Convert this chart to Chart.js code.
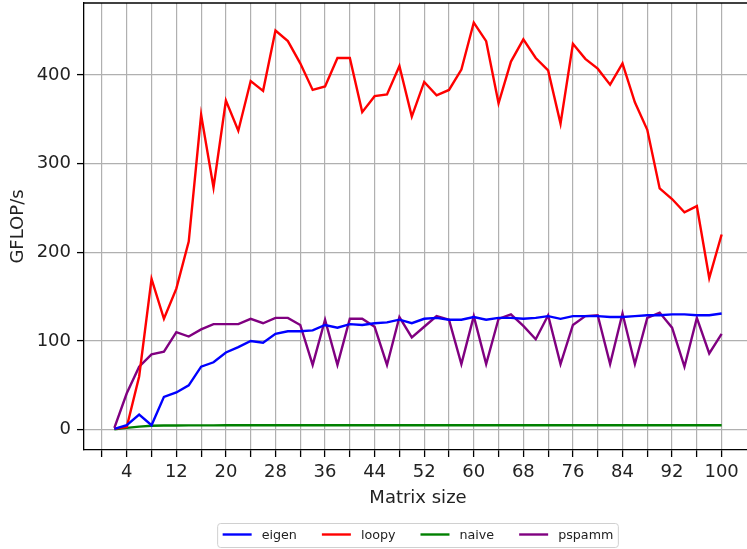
<!DOCTYPE html>
<html>
<head>
<meta charset="utf-8">
<script src="https://cdn.jsdelivr.net/npm/chart.js@4.4.0/dist/chart.umd.min.js"></script>
<style>
    html, body{margin:0; padding:0; overflow:hidden; background:#fff;}
    #caja{width:752px; height:549px; position:relative;}
</style>
</head>
<body>
<div id="caja"><canvas id="grafica"></canvas></div>
<script>
//Data
    //Matrix sizes
        var tamanos = [2, 4, 6, 8, 10, 12, 14, 16, 18, 20, 22, 24, 26, 28, 30, 32, 34, 36, 38, 40,
            42, 44, 46, 48, 50, 52, 54, 56, 58, 60, 62, 64, 66, 68, 70, 72, 74, 76, 78, 80,
            82, 84, 86, 88, 90, 92, 94, 96, 98, 100];
    //GFLOP/s per series
        var eigen = [1, 5, 17, 5, 37, 42, 50, 71, 76, 87, 93, 100, 98, 108, 111, 111, 112, 118, 115, 119,
            118, 120, 121, 124, 120, 125, 126, 124, 124, 127, 124, 126, 126, 125, 126, 128, 125, 128, 128, 128,
            127, 127, 128, 129, 129, 130, 130, 129, 129, 131];
        var loopy = [1, 3, 60, 170, 125, 159, 212, 355, 273, 371, 337, 393, 382, 450, 438, 413, 383, 387, 419, 419,
            358, 376, 378, 410, 353, 392, 377, 383, 406, 459, 438, 368, 415, 440, 419, 405, 345, 435, 418, 407,
            389, 413, 369, 338, 272, 260, 245, 252, 171, 220];
        var naive = [0.5, 2, 3.5, 4.5, 4.8, 4.8, 4.9, 4.9, 4.9, 5, 5, 5, 5, 5, 5, 5, 5, 5, 5, 5,
            5, 5, 5, 5, 5, 5, 5, 5, 5, 5, 5, 5, 5, 5, 5, 5, 5, 5, 5, 5,
            5, 5, 5, 5, 5, 5, 5, 5, 5, 5];
        var pspamm = [2, 41, 71, 85, 88, 110, 105, 113, 119, 119, 119, 125, 120, 126, 126, 118, 73, 124, 73, 125,
            125, 116, 73, 127, 104, 116, 128, 124, 74, 128, 74, 125, 130, 117, 102, 129, 74, 118, 128, 129,
            74, 131, 74, 126, 132, 115, 71, 126, 86, 108];
    //Names and colours
        var nombres = ["eigen", "loopy", "naive", "pspamm"];
        var colores = ["#0000ff", "#ff0000", "#008000", "#800080"];
    //Ticks
        var ticksX = [0, 4, 8, 12, 16, 20, 24, 28, 32, 36, 40, 44, 48, 52, 56, 60, 64, 68, 72, 76, 80, 84, 88, 92, 96, 100];
        var etiquetasX = [4, 12, 20, 28, 36, 44, 52, 60, 68, 76, 84, 92, 100];
        var ticksY = [0, 100, 200, 300, 400];

//Plugins
    //Top spine
        var marco = {
            id: 'marco',
            afterDraw: function(chart){
                var ctx = chart.ctx, a = chart.chartArea;
                ctx.save();
                ctx.strokeStyle = '#000';
                ctx.lineWidth = 1.3;
                ctx.beginPath();
                ctx.moveTo(a.left, a.top);
                ctx.lineTo(a.right, a.top);
                ctx.stroke();
                ctx.restore();
            }
        };
    //Framed legend under the axis title
        var leyenda = {
            id: 'leyenda',
            afterDraw: function(chart){
                var ctx = chart.ctx, a = chart.chartArea;
                var linea = 29, hueco = 10, sep = 25, pad = 5;
                ctx.save();
                ctx.font = '12.7px "DejaVu Sans"';
                var sets = chart.data.datasets;
                var anchos = sets.map(function(d){ return ctx.measureText(d.label).width; });
                var total = anchos.reduce(function(s, w){ return s + w; }, 0) + sets.length * (linea + hueco) + (sets.length - 1) * sep;
                var x = (a.left + a.right) / 2 - total / 2;
                var yc = chart.height - 13.5;
                ctx.beginPath();
                if(ctx.roundRect) ctx.roundRect(x - pad, yc - 12, total + 2 * pad, 24, 3);
                else ctx.rect(x - pad, yc - 12, total + 2 * pad, 24);
                ctx.fillStyle = '#fff';
                ctx.fill();
                ctx.strokeStyle = '#d0d0d0';
                ctx.lineWidth = 1;
                ctx.stroke();
                ctx.textBaseline = 'middle';
                for(var i = 0; i < sets.length; i++){
                    ctx.strokeStyle = sets[i].borderColor;
                    ctx.lineWidth = 2.4;
                    ctx.beginPath();
                    ctx.moveTo(x, yc - 1);
                    ctx.lineTo(x + linea, yc - 1);
                    ctx.stroke();
                    ctx.fillStyle = '#222';
                    ctx.fillText(sets[i].label, x + linea + hueco, yc);
                    x += linea + hueco + anchos[i] + sep;
                }
                ctx.restore();
            }
        };

//Chart
    var series = [eigen, loopy, naive, pspamm];
    var datasets = [];
    for(var s = 0; s < series.length; s++){
        datasets.push({
            label: nombres[s],
            data: tamanos.map(function(t, i){ return {x: t, y: series[s][i]}; }),
            borderColor: colores[s],
            backgroundColor: colores[s],
            borderWidth: 2.4,
            pointRadius: 0,
            tension: 0,
            fill: false
        });
    }

    var fuente = {family: '"DejaVu Sans"', size: 18};

    new Chart(document.getElementById('grafica'), {
        type: 'line',
        data: {datasets: datasets},
        plugins: [marco, leyenda],
        options: {
            responsive: true,
            maintainAspectRatio: false,
            animation: false,
            devicePixelRatio: 1,
            layout: {padding: {top: 3, right: 0, bottom: 37, left: 0}},
            plugins: {
                legend: {display: false},
                tooltip: {enabled: false}
            },
            scales: {
                x: {
                    type: 'linear',
                    min: -2.9,
                    max: 104.9,
                    afterBuildTicks: function(eje){ eje.ticks = ticksX.map(function(v){ return {value: v}; }); },
                    afterFit: function(eje){ eje.height = 62; eje.paddingLeft = 0; eje.paddingRight = 0; },
                    ticks: {
                        autoSkip: false,
                        maxRotation: 0,
                        padding: 5,
                        color: '#222',
                        font: fuente,
                        callback: function(v){ return etiquetasX.indexOf(v) >= 0 ? String(v) : ''; }
                    },
                    grid: {color: '#b0b0b0', lineWidth: 1.2, tickColor: '#000', tickLength: 7, tickWidth: 1.3},
                    border: {color: '#000', width: 1.3},
                    title: {display: true, text: 'Matrix size', color: '#222', font: fuente, padding: {top: 0, bottom: 3}}
                },
                y: {
                    min: -22.9,
                    max: 481,
                    afterBuildTicks: function(eje){ eje.ticks = ticksY.map(function(v){ return {value: v}; }); },
                    afterFit: function(eje){ eje.width = 84; eje.paddingTop = 0; eje.paddingBottom = 0; },
                    ticks: {
                        padding: 6,
                        color: '#222',
                        font: fuente,
                        callback: function(v){ return String(v); }
                    },
                    grid: {color: '#b0b0b0', lineWidth: 1.2, tickColor: '#000', tickLength: 7, tickWidth: 1.3},
                    border: {color: '#000', width: 1.3},
                    title: {display: true, text: 'GFLOP/s', color: '#222', font: fuente, padding: {top: 7.5, bottom: 0}}
                }
            }
        }
    });
</script>
</body>
</html>
